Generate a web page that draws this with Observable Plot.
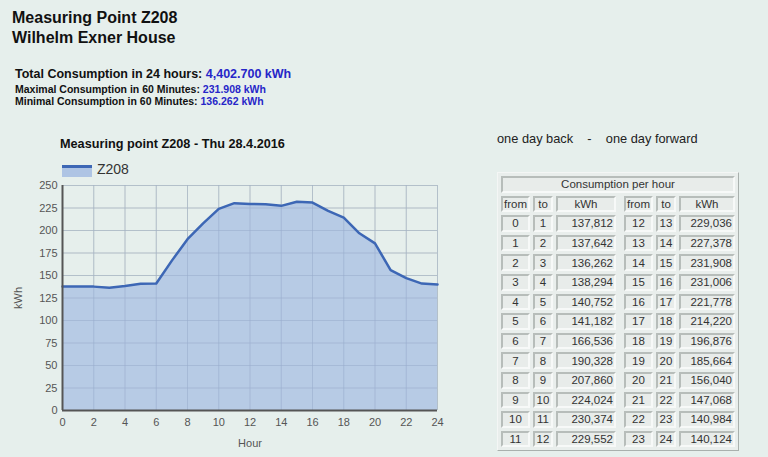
<!DOCTYPE html>
<html>
<head>
<meta charset="utf-8">
<script src="https://cdn.jsdelivr.net/npm/d3@7"></script>
<script src="https://cdn.jsdelivr.net/npm/@observablehq/plot@0.6"></script>
<style>
  html, body { margin:0; padding:0; }
  body { width:768px; height:457px; background:#e6efec; font-family:"Liberation Sans", Arial, sans-serif; position:relative; overflow:hidden; color:#111; }
  .abs { position:absolute; white-space:nowrap; }
  .h1 { font-size:16px; font-weight:bold; line-height:20px; }
  .blue { color:#2626c8; }
  table.cons { position:absolute; left:497px; top:172px; border-collapse:separate; border-spacing:3px; font-size:11.5px; color:#333;
    border:1px solid; border-color:#f4f6f5 #a9b0ad #a9b0ad #f4f6f5; background:#e9eeec; }
  table.cons td { border:2px solid; border-color:#b7bdba #f7f9f8 #f7f9f8 #b7bdba; background:#e8ecea; height:12.6px; padding:0 1px; box-sizing:content-box; line-height:12px; }
  table.cons td.c { text-align:center; }
  table.cons td.r { text-align:right; }
  table.cons td.sp { border:none; background:none; padding:0; }
</style>
</head>
<body>
<div class="abs h1" style="left:12px;top:8px;">Measuring Point Z208<br>Wilhelm Exner House</div>
<div class="abs" style="left:15px;top:67px;font-size:12.5px;font-weight:bold;">Total Consumption in 24 hours: <span class="blue">4,402.700 kWh</span></div>
<div class="abs" style="left:15px;top:83px;font-size:10.5px;font-weight:bold;line-height:12px;">Maximal Consumption in 60 Minutes: <span class="blue">231.908 kWh</span><br>Minimal Consumption in 60 Minutes: <span class="blue">136.262 kWh</span></div>
<div class="abs" style="left:60px;top:137px;font-size:12.7px;font-weight:bold;">Measuring point Z208 - Thu 28.4.2016</div>
<div class="abs" style="left:62px;top:165px;width:30px;height:9px;background:#aec4e4;border-top:3px solid #3d67b5;"></div>
<div class="abs" style="left:97px;top:161px;font-size:14px;color:#333;">Z208</div>
<div class="abs" style="left:497px;top:131px;font-size:12.8px;color:#222;">one day back &nbsp;&nbsp; - &nbsp;&nbsp; one day forward</div>
<div id="chart" class="abs" style="left:0;top:175px;"></div>
<table class="cons" id="tbl"></table>
<script>
// Hourly consumption (kWh), hour h -> h+1
const fromHours = d3.range(0, 24);
const toHours = d3.range(1, 25);
const kwh = [137.812, 137.642, 136.262, 138.294, 140.752, 141.182, 166.536, 190.328, 207.860, 224.024, 230.374, 229.552,
             229.036, 227.378, 231.908, 231.006, 221.778, 214.220, 196.876, 185.664, 156.040, 147.068, 140.984, 140.124];
const startValue = 137.8; // value shown at hour 0
const xTicks = d3.range(0, 25, 2);
const yTicks = d3.range(0, 251, 25);

const series = [{hour: 0, value: startValue}, ...toHours.map((h, i) => ({hour: h, value: kwh[i]}))];

const plot = Plot.plot({
  width: 480, height: 282,
  marginLeft: 62, marginRight: 43, marginTop: 10, marginBottom: 47,
  style: {background: "transparent", fontFamily: "Liberation Sans, Arial, sans-serif", fontSize: "11px", color: "#555"},
  x: {domain: [0, 24]},
  y: {domain: [0, 250]},
  marks: [
    Plot.gridX(xTicks, {stroke: "#c6cfcc", strokeOpacity: 1}),
    Plot.gridY(yTicks, {stroke: "#c6cfcc", strokeOpacity: 1}),
    Plot.areaY(series, {x: "hour", y: "value", fill: "#aec4e4", fillOpacity: 0.85}),
    Plot.gridX(xTicks, {stroke: "#8fa3c6", strokeOpacity: 0.35}),
    Plot.gridY(yTicks, {stroke: "#8fa3c6", strokeOpacity: 0.35}),
    Plot.lineY(series, {x: "hour", y: "value", stroke: "#3d67b5", strokeWidth: 2.5}),
    Plot.ruleX([0], {stroke: "#555", strokeWidth: 2}),
    Plot.ruleY([0], {stroke: "#555", strokeWidth: 2}),
    Plot.axisX({ticks: xTicks, tickSize: 0, tickPadding: 8, label: "Hour", labelAnchor: "center", labelOffset: 36, labelArrow: "none", color: "#555"}),
    Plot.axisY({ticks: yTicks, tickSize: 0, tickPadding: 5, label: "kWh", labelAnchor: "center", labelOffset: 48, labelArrow: "none", color: "#555"})
  ]
});
document.getElementById("chart").appendChild(plot);

// Table
const fmt = v => v.toFixed(3).replace(".", ",");
const tbl = document.getElementById("tbl");
let html = `<tr><td class="c" colspan="7">Consumption per hour</td></tr>`;
html += `<tr><td class="c" style="width:18px">from</td><td class="c" style="width:14px">to</td><td class="c" style="width:54px">kWh</td><td class="sp" style="width:2px"></td><td class="c" style="width:22px">from</td><td class="c" style="width:14px">to</td><td class="c" style="width:50px">kWh</td></tr>`;
for (let i = 0; i < 12; i++) {
  const j = i + 12;
  html += `<tr><td class="c">${fromHours[i]}</td><td class="c">${toHours[i]}</td><td class="r">${fmt(kwh[i])}</td><td class="sp"></td><td class="c">${fromHours[j]}</td><td class="c">${toHours[j]}</td><td class="r">${fmt(kwh[j])}</td></tr>`;
}
tbl.innerHTML = html;
</script>
</body>
</html>
